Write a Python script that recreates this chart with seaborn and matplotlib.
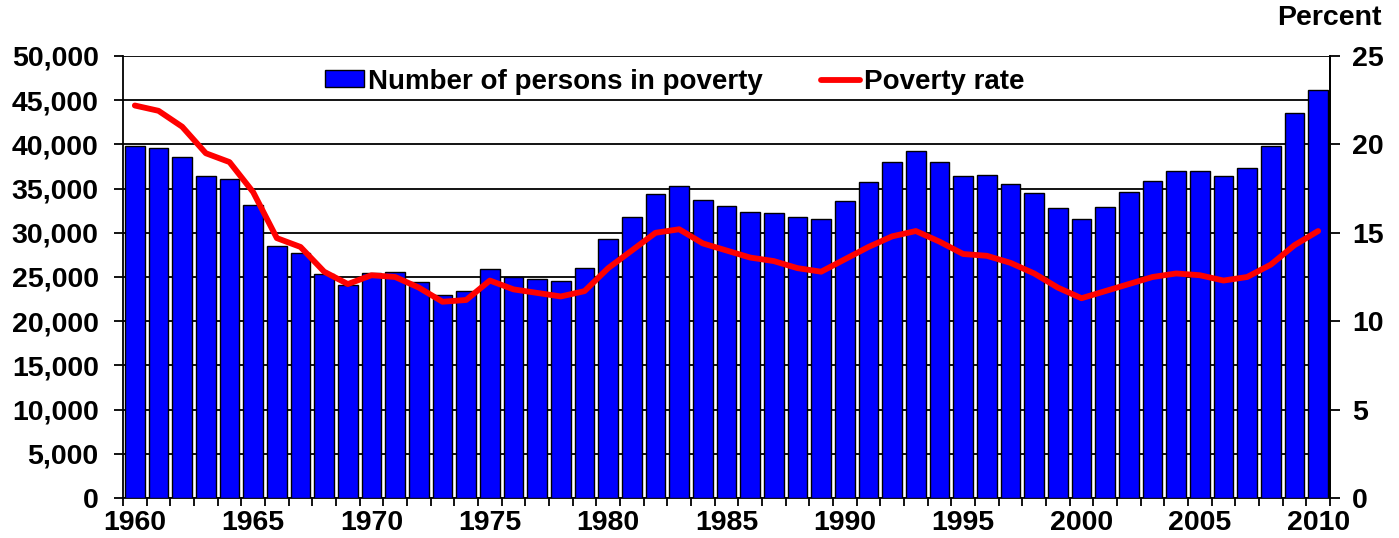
import matplotlib
matplotlib.use("Agg")
import matplotlib.pyplot as plt
import seaborn as sns
import numpy as np
import pandas as pd
from matplotlib.ticker import FuncFormatter, FixedLocator

years = list(range(1960, 2011))
persons = [39851, 39628, 38625, 36436, 36055, 33185, 28510, 27769, 25389, 24147,
           25420, 25559, 24460, 22973, 23370, 25877, 24975, 24720, 24497, 26072,
           29272, 31822, 34398, 35303, 33700, 33064, 32370, 32221, 31745, 31528,
           33585, 35708, 38014, 39265, 38059, 36425, 36529, 35574, 34476, 32791,
           31581, 32907, 34570, 35861, 37040, 36950, 36460, 37276, 39829, 43569,
           46180]
rate = [22.2, 21.9, 21.0, 19.5, 19.0, 17.3, 14.7, 14.2, 12.8, 12.1,
        12.6, 12.5, 11.9, 11.1, 11.2, 12.3, 11.8, 11.6, 11.4, 11.7,
        13.0, 14.0, 15.0, 15.2, 14.4, 14.0, 13.6, 13.4, 13.0, 12.8,
        13.5, 14.2, 14.8, 15.1, 14.5, 13.8, 13.7, 13.3, 12.7, 11.9,
        11.3, 11.7, 12.1, 12.5, 12.7, 12.6, 12.3, 12.5, 13.2, 14.3,
        15.1]
label_years = [1960, 1965, 1970, 1975, 1980, 1985, 1990, 1995, 2000, 2005, 2010]
left_ticks = list(range(0, 50001, 5000))
right_ticks = [0, 5, 10, 15, 20, 25]

df = pd.DataFrame({"year": years, "persons": persons, "rate": rate})

sns.set_style("white")
plt.rcParams["font.family"] = ["Liberation Sans", "DejaVu Sans"]
plt.rcParams["font.weight"] = "bold"
plt.rcParams["text.color"] = "black"
plt.rcParams["xtick.color"] = "black"
plt.rcParams["ytick.color"] = "black"
plt.rcParams["axes.labelcolor"] = "black"

FS = 20.5

fig = plt.figure(figsize=(13.99, 5.38), dpi=100)
ax = fig.add_axes([123/1399, 1-498/538, (1330-123)/1399, (498-56)/538])

sns.barplot(data=df, x="year", y="persons", native_scale=True, width=0.82,
            color="#0000FF", edgecolor="black", linewidth=1.0, saturation=1,
            ax=ax, label="Number of persons in poverty", zorder=3)
ax.set_xlim(1959.5, 2010.5)
ax.set_ylim(0, 50000)
ax.set_yticks(left_ticks)
ax.yaxis.set_major_formatter(FuncFormatter(lambda v, p: f"{int(v):,}"))
ax.grid(axis="y", color="black", linewidth=1.3, zorder=0)
ax.set_axisbelow(True)

# x ticks: marks at boundaries, labels at centers
bounds = [y - 0.5 for y in years] + [years[-1] + 0.5]
ax.xaxis.set_major_locator(FixedLocator(bounds))
ax.xaxis.set_major_formatter(FuncFormatter(lambda v, p: ""))
ax.xaxis.set_minor_locator(FixedLocator(label_years))
ax.xaxis.set_minor_formatter(FuncFormatter(lambda v, p: f"{int(round(v))}"))
ax.tick_params(axis="x", which="major", direction="out", length=6, width=1.3, color="black", bottom=True)
ax.tick_params(axis="x", which="minor", length=0, labelsize=FS, pad=9, labelcolor="black")
ax.tick_params(axis="y", direction="out", length=6.5, width=1.3, color="black", labelsize=FS,
               left=True, pad=11, labelcolor="black")
ax.set_xlabel("")
ax.set_ylabel("")
for s in ["left", "bottom", "right"]:
    ax.spines[s].set_visible(True)
    ax.spines[s].set_color("black")
    ax.spines[s].set_linewidth(1.3)
ax.spines["top"].set_visible(False)

ax2 = ax.twinx()
sns.lineplot(data=df, x="year", y="rate", color="#FF0000", linewidth=4.2,
             ax=ax2, label="Poverty rate", zorder=5)
ax2.set_ylim(0, 25)
ax2.set_yticks(right_ticks)
ax2.set_ylabel("")
ax2.tick_params(axis="y", direction="out", length=7, width=1.3, color="black", labelsize=FS,
                right=True, pad=9, labelcolor="black")
for s in ["left", "top", "bottom"]:
    ax2.spines[s].set_visible(False)
ax2.spines["right"].set_color("black")
ax2.spines["right"].set_linewidth(1.3)
ax2.set_xlim(1959.5, 2010.5)

h1, l1 = ax.get_legend_handles_labels()
h2, l2 = ax2.get_legend_handles_labels()
if ax.get_legend():
    ax.get_legend().remove()
leg = ax2.legend(h1 + h2, l1 + l2, loc="upper left", bbox_to_anchor=((325-123)/1207 - 0.0205, 1.028), ncol=2,
           frameon=False, handlelength=1.4, handleheight=0.55,
           columnspacing=2.1, handletextpad=0.15, prop={"weight": "bold", "size": 20})
for t in leg.get_texts():
    t.set_color("black")

fig.text(1382/1399, 1-18/538, "Percent", ha="right", va="center", fontsize=FS, fontweight="bold")

fig.savefig("out.png", dpi=100)
